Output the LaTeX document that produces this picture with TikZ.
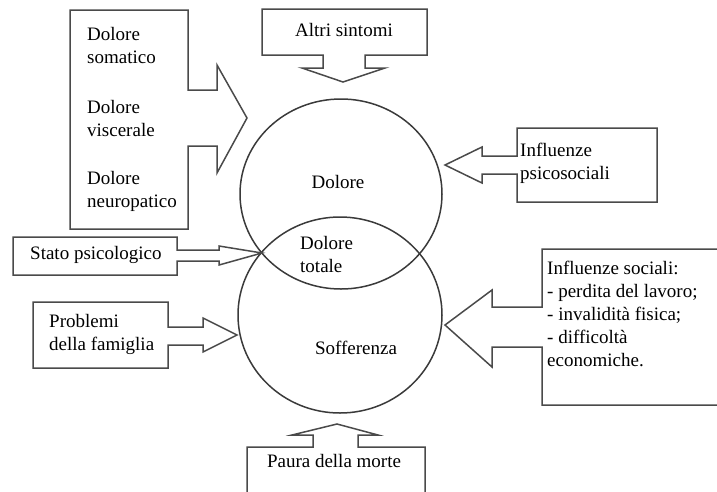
\documentclass[tikz,border=0pt]{standalone}
\usepackage{fontspec}
\setmainfont{Liberation Serif}
\begin{document}
\begin{tikzpicture}[x=1pt, y=-1pt,
  callout/.style={draw=linegray, line width=1.5pt, line join=miter, fill=white},
  ring/.style={draw=ringgray, line width=1.5pt},
  lbl/.style={inner sep=0pt, text=black, font=\fontsize{19}{23}\selectfont}]
\definecolor{linegray}{HTML}{4A4A4A}
\definecolor{ringgray}{HTML}{3A3A3A}
\useasboundingbox (0,0) rectangle (717,491);
\clip (0,0) rectangle (717,491);

% the two overlapping circles
\draw[ring] (341,194) ellipse [x radius=101, y radius=95];
\draw[ring] (340,315) ellipse [x radius=102, y radius=98];

% boxes with their block arrows
\draw[callout] (70,10) -- (188,10) -- (188,90) -- (217,90) -- (217,65) -- (247,118)
  -- (217,173) -- (217,146) -- (188,146) -- (188,229) -- (70,229) -- cycle;
\draw[callout] (262,9) -- (427,9) -- (427,55) -- (365,55) -- (365,68) -- (385,68)
  -- (343,82) -- (302,68) -- (323,68) -- (323,55) -- (262,55) -- cycle;
\draw[callout] (657,128) -- (517,128) -- (517,156) -- (482,156) -- (482,147) -- (445,165)
  -- (482,183) -- (482,174) -- (517,174) -- (517,202) -- (657,202) -- cycle;
\draw[callout] (13,237) -- (177,237) -- (177,250) -- (219,250) -- (219,246) -- (262,253)
  -- (219,265) -- (219,261) -- (177,261) -- (177,275) -- (13,275) -- cycle;
\draw[callout] (33,302) -- (168,302) -- (168,327) -- (203,327) -- (203,318) -- (237,335)
  -- (203,352) -- (203,345) -- (168,345) -- (168,368) -- (33,368) -- cycle;
\draw[callout] (730,249) -- (542,249) -- (542,307) -- (492,307) -- (492,290) -- (445,325)
  -- (492,367) -- (492,347) -- (542,347) -- (542,405) -- (730,405);
\draw[callout] (247,500) -- (247,447) -- (313,447) -- (313,435) -- (292,435) -- (337,424)
  -- (378,435) -- (358,435) -- (358,447) -- (425,447) -- (425,500);

% labels
\node[lbl, anchor=west, align=left] (soma) at (87,45) {Dolore\\somatico};
\node[lbl, anchor=west, align=left] (visc) at (87,118) {Dolore\\viscerale};
\node[lbl, anchor=west, align=left] (neuro) at (87,191) {Dolore\\neuropatico};
\node[lbl] (altri) at (344,30) {Altri sintomi};
\node[lbl, anchor=west, align=left] (psicosoc) at (520,163) {Influenze\\psicosociali};
\node[lbl] (dolore) at (338,182) {Dolore};
\node[lbl, anchor=west, align=left] (totale) at (300,254) {Dolore\\totale};
\node[lbl, anchor=west] (stato) at (30,255) {Stato psicologico};
\node[lbl, anchor=west, align=left] (fam) at (49,334) {Problemi\\della famiglia};
\node[lbl] (soff) at (356,348) {Sofferenza};
\node[lbl, anchor=west, align=left] (soc) at (547,314)
  {Influenze sociali:\\- perdita del lavoro;\\- invalidità fisica;\\- difficoltà\\economiche.};
\node[lbl] (paura) at (334,461) {Paura della morte};
\end{tikzpicture}
\end{document}
